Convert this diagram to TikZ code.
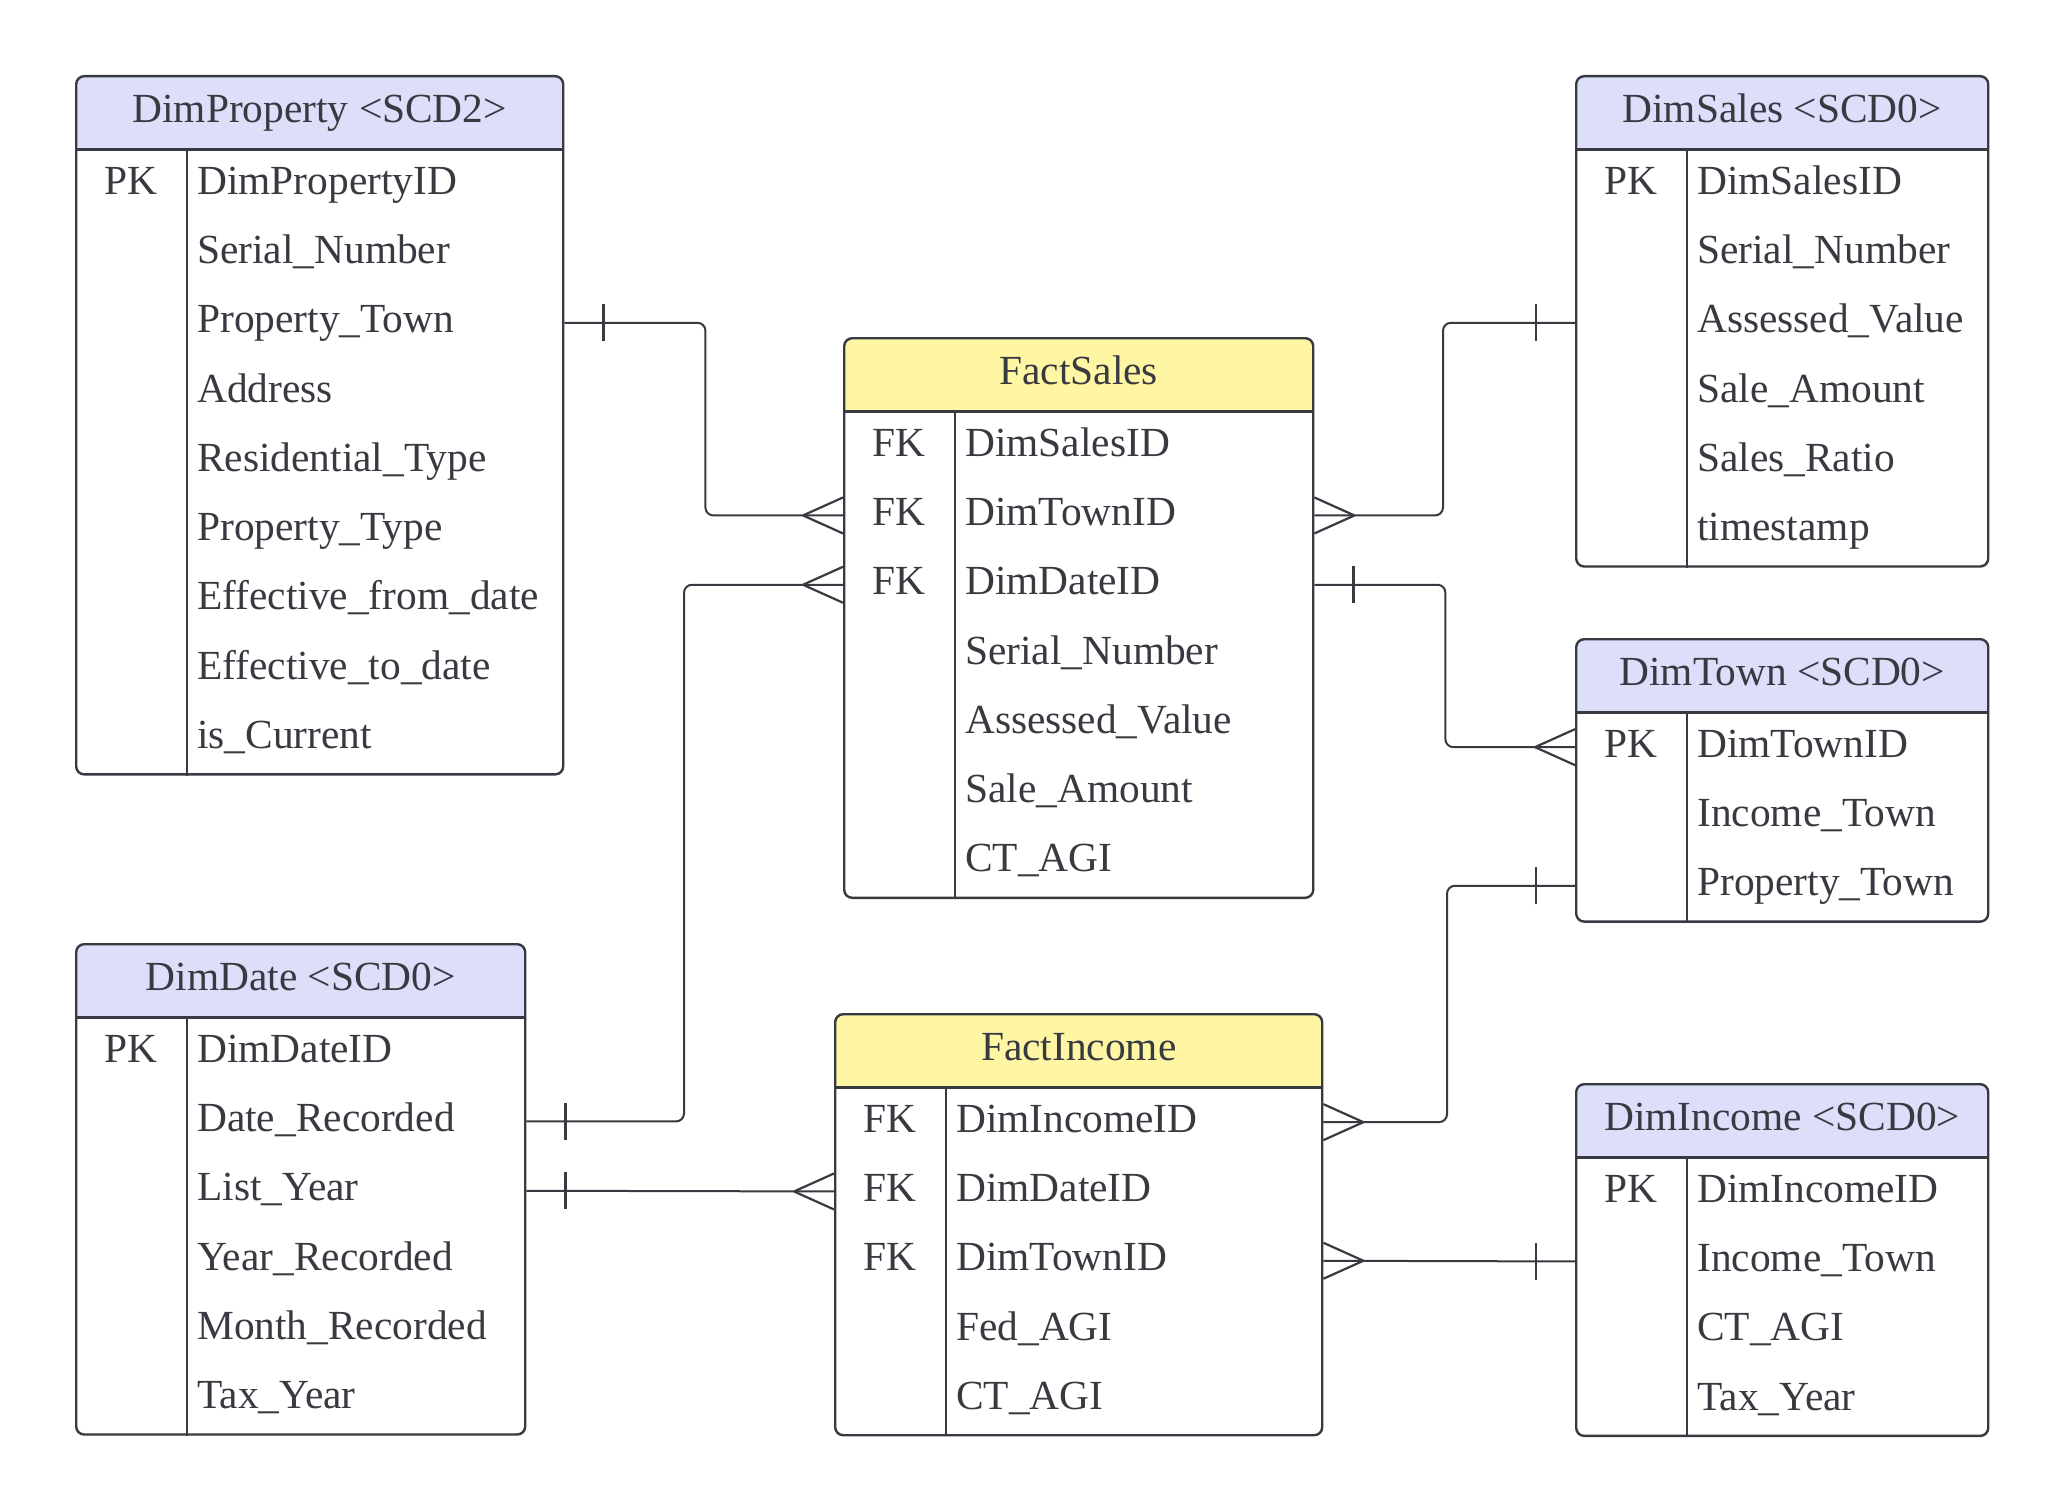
\documentclass[tikz,border=0pt]{standalone}
\usepackage{fontspec}
\setmainfont{Liberation Serif}
\usepackage{tikz}
\usetikzlibrary{calc}
\definecolor{ink}{RGB}{55,58,64}
\definecolor{dimhead}{RGB}{221,222,250}
\definecolor{facthead}{RGB}{255,246,163}
\newcommand{\entfont}{\fontsize{41.4pt}{50pt}\selectfont}
\tikzstyle{tablebox} = [rectangle, rounded corners=8pt, draw=ink, line width=2.4pt, fill=white, anchor=north west, inner sep=0pt]
\tikzstyle{dimtable} = [tablebox, path picture={\fill[dimhead] (path picture bounding box.north west) rectangle ([yshift=-74.5pt]path picture bounding box.north east);}]
\tikzstyle{facttable} = [tablebox, path picture={\fill[facthead] (path picture bounding box.north west) rectangle ([yshift=-74.5pt]path picture bounding box.north east);}]
\tikzstyle{headtext} = [font=\entfont, text=ink, text height=29pt, text depth=9pt, inner sep=0pt]
\tikzstyle{field} = [headtext, text width=360pt, align=left]
\tikzstyle{keyfield} = [headtext]
\tikzstyle{rule} = [draw=ink, line width=2.4pt]
\tikzstyle{link} = [draw=ink, line width=2pt, rounded corners=8pt]
\tikzstyle{endmark} = [draw=ink, line width=2.2pt]
\tikzset{
  crow/.pic={\draw[endmark] (-40,0) -- (0,18) (-40,0) -- (0,-18);},
  onebar/.pic={\draw[endmark] (-39,-18.5) -- (-39,18.5);}
}

\begin{document}
\begin{tikzpicture}[x=1pt, y=1pt, node distance=69.3pt]
\useasboundingbox (0,0) rectangle (2063,-1509);

% DimProperty
\node (prop) [dimtable, minimum width=487pt, minimum height=698.2pt] at (75,-75) {};
\node (prop-h) [headtext] at ([yshift=-37.25pt]prop.north) {DimProperty <SCD2>};
\draw [rule] ([yshift=-74.5pt]prop.north west) -- ([yshift=-74.5pt]prop.north east);
\draw [rule] ([xshift=112pt,yshift=-74.5pt]prop.north west) -- ([xshift=112pt]prop.south west);
\node (prop-1) [field, anchor=west] at ([xshift=122pt,yshift=-109.15pt]prop.north west) {DimPropertyID};
\node (prop-2) [field, below of=prop-1] {Serial\_Number};
\node (prop-3) [field, below of=prop-2] {Property\_Town};
\node (prop-4) [field, below of=prop-3] {Address};
\node (prop-5) [field, below of=prop-4] {Residential\_Type};
\node (prop-6) [field, below of=prop-5] {Property\_Type};
\node (prop-7) [field, below of=prop-6] {Effective\_from\_date};
\node (prop-8) [field, below of=prop-7] {Effective\_to\_date};
\node (prop-9) [field, below of=prop-8] {is\_Current};
\node (prop-pk) [keyfield, xshift=56pt] at (prop-1 -| prop.west) {PK};

% DimSales
\node (sale) [dimtable, minimum width=412pt, minimum height=490.3pt] at (1575,-75) {};
\node (sale-h) [headtext] at ([yshift=-37.25pt]sale.north) {DimSales <SCD0>};
\draw [rule] ([yshift=-74.5pt]sale.north west) -- ([yshift=-74.5pt]sale.north east);
\draw [rule] ([xshift=112pt,yshift=-74.5pt]sale.north west) -- ([xshift=112pt]sale.south west);
\node (sale-1) [field, anchor=west] at ([xshift=122pt,yshift=-109.15pt]sale.north west) {DimSalesID};
\node (sale-2) [field, below of=sale-1] {Serial\_Number};
\node (sale-3) [field, below of=sale-2] {Assessed\_Value};
\node (sale-4) [field, below of=sale-3] {Sale\_Amount};
\node (sale-5) [field, below of=sale-4] {Sales\_Ratio};
\node (sale-6) [field, below of=sale-5] {timestamp};
\node (sale-pk) [keyfield, xshift=56pt] at (sale-1 -| sale.west) {PK};

% FactSales
\node (fs) [facttable, minimum width=469pt, minimum height=559.6pt] at (843,-337) {};
\node (fs-h) [headtext] at ([yshift=-37.25pt]fs.north) {FactSales};
\draw [rule] ([yshift=-74.5pt]fs.north west) -- ([yshift=-74.5pt]fs.north east);
\draw [rule] ([xshift=112pt,yshift=-74.5pt]fs.north west) -- ([xshift=112pt]fs.south west);
\node (fs-1) [field, anchor=west] at ([xshift=122pt,yshift=-109.15pt]fs.north west) {DimSalesID};
\node (fs-2) [field, below of=fs-1] {DimTownID};
\node (fs-3) [field, below of=fs-2] {DimDateID};
\node (fs-4) [field, below of=fs-3] {Serial\_Number};
\node (fs-5) [field, below of=fs-4] {Assessed\_Value};
\node (fs-6) [field, below of=fs-5] {Sale\_Amount};
\node (fs-7) [field, below of=fs-6] {CT\_AGI};
\node (fs-fk1) [keyfield, xshift=56pt] at (fs-1 -| fs.west) {FK};
\node (fs-fk2) [keyfield, xshift=56pt] at (fs-2 -| fs.west) {FK};
\node (fs-fk3) [keyfield, xshift=56pt] at (fs-3 -| fs.west) {FK};

% DimTown
\node (town) [dimtable, minimum width=412pt, minimum height=282.4pt] at (1575,-638) {};
\node (town-h) [headtext] at ([yshift=-37.25pt]town.north) {DimTown <SCD0>};
\draw [rule] ([yshift=-74.5pt]town.north west) -- ([yshift=-74.5pt]town.north east);
\draw [rule] ([xshift=112pt,yshift=-74.5pt]town.north west) -- ([xshift=112pt]town.south west);
\node (town-1) [field, anchor=west] at ([xshift=122pt,yshift=-109.15pt]town.north west) {DimTownID};
\node (town-2) [field, below of=town-1] {Income\_Town};
\node (town-3) [field, below of=town-2] {Property\_Town};
\node (town-pk) [keyfield, xshift=56pt] at (town-1 -| town.west) {PK};

% DimDate
\node (date) [dimtable, minimum width=449pt, minimum height=490.3pt] at (75,-943) {};
\node (date-h) [headtext] at ([yshift=-37.25pt]date.north) {DimDate <SCD0>};
\draw [rule] ([yshift=-74.5pt]date.north west) -- ([yshift=-74.5pt]date.north east);
\draw [rule] ([xshift=112pt,yshift=-74.5pt]date.north west) -- ([xshift=112pt]date.south west);
\node (date-1) [field, anchor=west] at ([xshift=122pt,yshift=-109.15pt]date.north west) {DimDateID};
\node (date-2) [field, below of=date-1] {Date\_Recorded};
\node (date-3) [field, below of=date-2] {List\_Year};
\node (date-4) [field, below of=date-3] {Year\_Recorded};
\node (date-5) [field, below of=date-4] {Month\_Recorded};
\node (date-6) [field, below of=date-5] {Tax\_Year};
\node (date-pk) [keyfield, xshift=56pt] at (date-1 -| date.west) {PK};

% FactIncome
\node (fi) [facttable, minimum width=487pt, minimum height=421pt] at (834,-1013) {};
\node (fi-h) [headtext] at ([yshift=-37.25pt]fi.north) {FactIncome};
\draw [rule] ([yshift=-74.5pt]fi.north west) -- ([yshift=-74.5pt]fi.north east);
\draw [rule] ([xshift=112pt,yshift=-74.5pt]fi.north west) -- ([xshift=112pt]fi.south west);
\node (fi-1) [field, anchor=west] at ([xshift=122pt,yshift=-109.15pt]fi.north west) {DimIncomeID};
\node (fi-2) [field, below of=fi-1] {DimDateID};
\node (fi-3) [field, below of=fi-2] {DimTownID};
\node (fi-4) [field, below of=fi-3] {Fed\_AGI};
\node (fi-5) [field, below of=fi-4] {CT\_AGI};
\node (fi-fk1) [keyfield, xshift=56pt] at (fi-1 -| fi.west) {FK};
\node (fi-fk2) [keyfield, xshift=56pt] at (fi-2 -| fi.west) {FK};
\node (fi-fk3) [keyfield, xshift=56pt] at (fi-3 -| fi.west) {FK};

% DimIncome
\node (inc) [dimtable, minimum width=412pt, minimum height=351.7pt] at (1575,-1083) {};
\node (inc-h) [headtext] at ([yshift=-37.25pt]inc.north) {DimIncome <SCD0>};
\draw [rule] ([yshift=-74.5pt]inc.north west) -- ([yshift=-74.5pt]inc.north east);
\draw [rule] ([xshift=112pt,yshift=-74.5pt]inc.north west) -- ([xshift=112pt]inc.south west);
\node (inc-1) [field, anchor=west] at ([xshift=122pt,yshift=-109.15pt]inc.north west) {DimIncomeID};
\node (inc-2) [field, below of=inc-1] {Income\_Town};
\node (inc-3) [field, below of=inc-2] {CT\_AGI};
\node (inc-4) [field, below of=inc-3] {Tax\_Year};
\node (inc-pk) [keyfield, xshift=56pt] at (inc-1 -| inc.west) {PK};

% relations
\draw [link] (prop-3 -| prop.east) -- ++(141,0) |- (fs-2 -| fs.west);
\pic [xscale=-1] at (prop-3 -| prop.east) {onebar};
\pic at (fs-2 -| fs.west) {crow};

\draw [link] (sale-3 -| sale.west) -- ++(-132,0) |- (fs-2 -| fs.east);
\pic at (sale-3 -| sale.west) {onebar};
\pic [xscale=-1] at (fs-2 -| fs.east) {crow};

\draw [link] (fs-3 -| fs.east) -- ++(131,0) |- (town-1 -| town.west);
\pic [xscale=-1] at (fs-3 -| fs.east) {onebar};
\pic at (town-1 -| town.west) {crow};

\draw [link] (fs-3 -| fs.west) -- ++(-159,0) |- (date-2 -| date.east);
\pic at (fs-3 -| fs.west) {crow};
\pic [xscale=-1] at (date-2 -| date.east) {onebar};

\draw [link] (date-3 -| date.east) -- (fi-2 -| fi.west);
\pic [xscale=-1] at (date-3 -| date.east) {onebar};
\pic at (fi-2 -| fi.west) {crow};

\draw [link] (town-3 -| town.west) -- ++(-128,0) |- (fi-1 -| fi.east);
\pic at (town-3 -| town.west) {onebar};
\pic [xscale=-1] at (fi-1 -| fi.east) {crow};

\draw [link] (fi-3 -| fi.east) -- (inc-2 -| inc.west);
\pic [xscale=-1] at (fi-3 -| fi.east) {crow};
\pic at (inc-2 -| inc.west) {onebar};

\end{tikzpicture}
\end{document}
